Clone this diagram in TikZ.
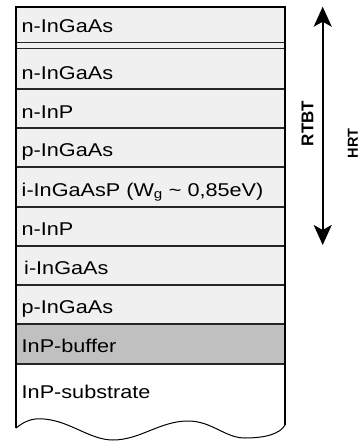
\documentclass[tikz,border=0pt]{standalone}
\usepackage{fontspec}
\setmainfont[FakeStretch=1.17]{Liberation Sans}
\newfontfamily\sidefont{Liberation Sans}
\usetikzlibrary{arrows.meta}
\definecolor{layergray}{HTML}{F0F0F0}
\definecolor{buffergray}{HTML}{C0C0C0}
\begin{document}
\begin{tikzpicture}[x=1pt,y=-1pt,
  layerline/.style={draw=black!85,line width=1.1pt},
  layerlabel/.style={anchor=base west,inner sep=0pt,font=\fontsize{18.5}{21}\selectfont},
  sidelabel/.style={rotate=90,inner sep=0pt,font=\sidefont\bfseries}]
\useasboundingbox (0,0) rectangle (361,441);

% epitaxial layers (light gray), buffer (mid gray), substrate (white)
\fill[layergray] (16,7) rectangle (285,324);
\fill[buffergray] (16,324) rectangle (285,364);

% substrate with broken-off wavy bottom
\path[fill=white] (16,364) -- (16,428)
  .. controls (26,420) and (34,418) .. (44,419)
  .. controls (70,421) and (90,440) .. (113,440)
  .. controls (140,440) and (160,421) .. (188,421)
  .. controls (212,421) and (225,438) .. (245,438)
  .. controls (265,438) and (280,434) .. (285,425) -- (285,364) -- cycle;
\draw[line width=1pt] (16,428)
  .. controls (26,420) and (34,418) .. (44,419)
  .. controls (70,421) and (90,440) .. (113,440)
  .. controls (140,440) and (160,421) .. (188,421)
  .. controls (212,421) and (225,438) .. (245,438)
  .. controls (265,438) and (280,434) .. (285,425);

% layer boundaries (double line marks the interrupted stack)
\foreach \yy in {42.7,48.3,89,128,167,207,246,285,324,364}
  \draw[layerline] (16,\yy) -- (285,\yy);

% outer frame
\draw[line width=1.1pt] (16,428) -- (16,7) -- (285,7) -- (285,425);

% layer labels
\node[layerlabel] (l1) at (21.5,32.7) {n-InGaAs};
\node[layerlabel] (l2) at (21.5,79.5) {n-InGaAs};
\node[layerlabel] (l3) at (21.5,118.5) {n-InP};
\node[layerlabel] (l4) at (21.5,156.5) {p-InGaAs};
\node[layerlabel] (l5) at (21.5,196) {i-InGaAsP (W\textsubscript{g} \textasciitilde{} 0,85eV)};
\node[layerlabel] (l6) at (21.5,235) {n-InP};
\node[layerlabel] (l7) at (24,274) {i-InGaAs};
\node[layerlabel] (l8) at (21.5,313) {p-InGaAs};
\node[layerlabel] (l9) at (21.5,352.5) {InP-buffer};
\node[layerlabel] (l10) at (21.5,398) {InP-substrate};

% transistor extents
\coordinate (rtbtTop) at (322.7,6.7);
\coordinate (rtbtBot) at (322.7,245);
\draw[line width=2pt,{Stealth[length=20pt,width=18pt,inset=5pt]}-{Stealth[length=20pt,width=18pt,inset=5pt]}]
  (rtbtTop) -- (rtbtBot);
\node[sidelabel,font=\sidefont\bfseries\fontsize{17}{19}\selectfont] (rtbt) at (307.5,123.5) {RTBT};
\node[sidelabel,font=\sidefont\bfseries\fontsize{14.5}{16}\selectfont] (hrt) at (353,143.5) {HRT};
\end{tikzpicture}
\end{document}
